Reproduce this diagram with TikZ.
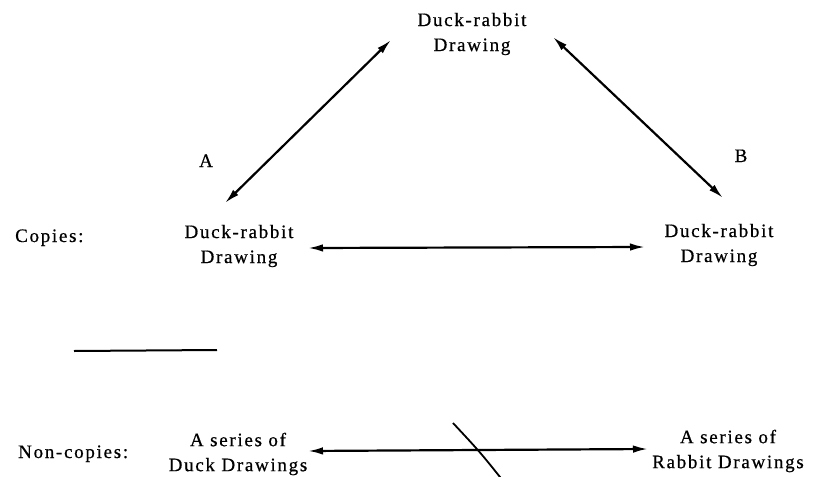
\documentclass[tikz,border=0pt]{standalone}
\usepackage{fontspec}
\setmainfont{Liberation Serif}[LetterSpace=9,FakeBold=0.6]
\usetikzlibrary{arrows.meta,calc}

\tikzset{
  label text/.style={inner sep=0pt, font=\fontsize{19}{25}\selectfont},
  drawing/.style={label text, align=center},
  tip/.tip={Latex[length=15pt,width=7.5pt]},
  link/.style={line width=2.2pt, tip-tip},
  rule/.style={line width=2pt},
}

\begin{document}
\begin{tikzpicture}[x=1pt,y=-1pt]
  \useasboundingbox[fill=white] (0,0) rectangle (815,477);

  % the three duck-rabbit drawings
  \node[drawing] (top)   at (472,34)  {Duck-rabbit\\Drawing};
  \node[drawing] (left)  at (239,246) {Duck-rabbit\\Drawing};
  \node[drawing] (right) at (719,245) {Duck-rabbit\\Drawing};

  % the two series of unambiguous drawings
  \node[drawing] (ducks)   at (238,454) {A series of\\Duck Drawings};
  \node[drawing] (rabbits) at (728,451) {A series of\\Rabbit Drawings};

  % row captions and edge letters
  \node[label text, anchor=base west] (copies)    at (15,242) {Copies:};
  \node[label text, anchor=base west] (noncopies) at (18,458) {Non-copies:};
  \node[label text, anchor=base] (labA) at (206,167) {A};
  \node[label text, anchor=base] (labB) at (741,162) {B};

  % copy relations
  \draw[link] ($(top.center)+(-81,6)$) -- ($(left.center)+(-14,-43)$);
  \draw[link] ($(top.center)+(81,3)$) -- ($(right.center)+(4,-47)$);
  \draw[link] ($(left.center)+(69,2)$) -- ($(right.center)+(-74,2)$);

  % separator between the two rows
  \coordinate (sepL) at (74,351);
  \coordinate (sepR) at (217,350);
  \draw[rule] (sepL) -- (sepR);

  % non-copy relation, struck through
  \draw[link] ($(ducks.center)+(70,-3)$) -- ($(rabbits.center)+(-80,-2)$);
  \coordinate (strikeT) at (453,423);
  \coordinate (strikeB) at (504,482);
  \draw[line width=1.8pt] (strikeT) .. controls (480,452) .. (strikeB);
\end{tikzpicture}
\end{document}
